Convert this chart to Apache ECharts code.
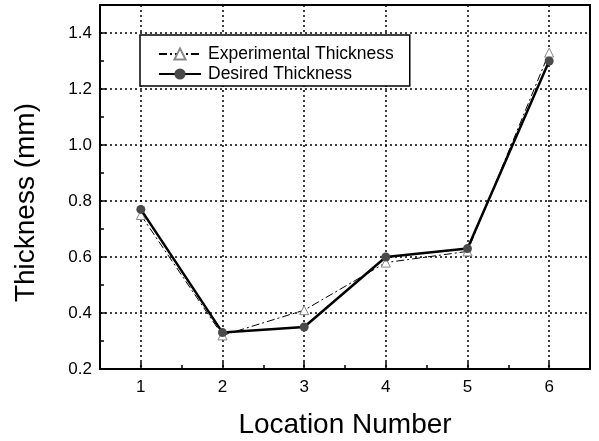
<!DOCTYPE html>
<html>
<head>
<meta charset="utf-8">
<script src="https://cdn.jsdelivr.net/npm/echarts@6/dist/echarts.min.js"></script>
<style>html,body{margin:0;padding:0;background:#fff;}#c{width:599px;height:441px;}</style>
</head>
<body>
<div id="c"></div>
<script>
const locations = [1, 2, 3, 4, 5, 6];
const experimental = [0.75, 0.32, 0.41, 0.58, 0.62, 1.33];
const desired = [0.77, 0.33, 0.35, 0.60, 0.63, 1.30];
const seriesNames = ['Experimental Thickness', 'Desired Thickness'];
const xTitle = 'Location Number';
const yTitle = 'Thickness (mm)';

const FONT = 'Liberation Sans, Arial, sans-serif';
const pair = (xs, ys) => xs.map((x, i) => [x, ys[i]]);

const chart = echarts.init(document.getElementById('c'), null, {renderer: 'canvas'});
chart.setOption({
  animation: false,
  backgroundColor: '#fff',
  textStyle: {fontFamily: FONT, color: '#000'},
  grid: {left: 100, top: 5, right: 9, bottom: 72, show: true, borderColor: '#000', borderWidth: 2,
    backgroundColor: 'transparent', containLabel: false, outerBoundsMode: 'none'},
  graphic: [{
    type: 'text', left: 12, top: 103, rotation: Math.PI / 2,
    style: {text: yTitle, font: '28px ' + FONT, fill: '#000'}
  }],
  legend: {
    left: 140, top: 35, orient: 'vertical',
    backgroundColor: '#fff', borderColor: '#000', borderWidth: 1.5, borderRadius: 0,
    padding: [10, 16, 3, 18], itemGap: 2, itemWidth: 42, itemHeight: 14,
    textStyle: {fontFamily: FONT, fontSize: 17.5, color: '#000', padding: [0, 0, 0, 2]},
    data: seriesNames
  },
  xAxis: [
    {
      type: 'value', position: 'bottom', min: 0.5, max: 6.5, interval: 0.5,
      axisLine: {show: true, onZero: false, lineStyle: {color: '#000', width: 2}},
      axisTick: {show: true, inside: true, length: 4, lineStyle: {color: '#000', width: 1.5}},
      axisLabel: {show: false}, splitLine: {show: false}
    },
    {
      type: 'value', position: 'bottom', min: 0.5, max: 6.5, splitNumber: 6,
      name: xTitle, nameLocation: 'middle', nameGap: 42,
      nameTextStyle: {fontFamily: FONT, fontSize: 28, color: '#000'},
      axisLine: {show: true, onZero: false, lineStyle: {color: '#000', width: 2}},
      axisTick: {show: true, inside: true, length: 7, lineStyle: {color: '#000', width: 1.5}},
      axisLabel: {show: true, margin: 10, fontFamily: FONT, fontSize: 17, color: '#000', showMinLabel: false, showMaxLabel: false,
        formatter: v => (Math.abs(v - Math.round(v)) < 1e-6 ? String(Math.round(v)) : '')},
      splitLine: {show: true, lineStyle: {color: '#000', width: 1.5, type: [2, 3]}}
    }
  ],
  yAxis: [
    {
      type: 'value', position: 'left', min: 0.2, max: 1.5, interval: 0.1,
      axisLine: {show: true, onZero: false, lineStyle: {color: '#000', width: 2}},
      axisTick: {show: true, inside: true, length: 4, lineStyle: {color: '#000', width: 1.5}},
      axisLabel: {show: false}, splitLine: {show: false}
    },
    {
      type: 'value', position: 'left', min: 0.2, max: 1.5, interval: 0.2,
      axisLine: {show: true, onZero: false, lineStyle: {color: '#000', width: 2}},
      axisTick: {show: true, inside: true, length: 6, lineStyle: {color: '#000', width: 1.5}},
      axisLabel: {show: true, margin: 8, fontFamily: FONT, fontSize: 17, color: '#000', showMaxLabel: false,
        formatter: v => v.toFixed(1)},
      splitLine: {show: true, lineStyle: {color: '#000', width: 1.5, type: [2, 3]}}
    }
  ],
  series: [
    {
      name: seriesNames[0], type: 'line', xAxisIndex: 1, yAxisIndex: 1,
      data: pair(locations, experimental),
      symbol: 'triangle', symbolSize: 9,
      itemStyle: {color: '#fff', borderColor: '#888', borderWidth: 1},
      lineStyle: {color: '#000', width: 1, type: [8, 3, 2, 3]},
      z: 2
    },
    {
      name: seriesNames[1], type: 'line', xAxisIndex: 1, yAxisIndex: 1,
      data: pair(locations, desired),
      symbol: 'circle', symbolSize: 9,
      itemStyle: {color: '#4a4a4a', borderWidth: 0},
      lineStyle: {color: '#000', width: 2.5, type: 'solid'},
      z: 3
    }
  ]
});
</script>
</body>
</html>
